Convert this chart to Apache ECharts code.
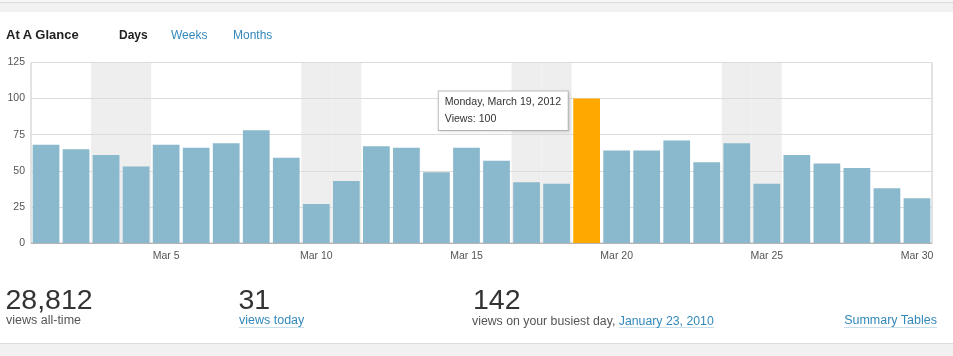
<!DOCTYPE html>
<html><head><meta charset="utf-8">
<script src="https://cdn.jsdelivr.net/npm/echarts@6/dist/echarts.min.js"></script>
<style>
html,body{margin:0;padding:0;background:#fff;width:953px;height:356px;overflow:hidden;font-family:"Liberation Sans",Arial,sans-serif;}
.abs{position:absolute;white-space:nowrap;}
#chart{position:absolute;left:0;top:0;width:953px;height:356px;}
.link{color:#3388bb;border-bottom:1px solid #c9dfec;display:inline-block;}
</style></head><body>
<div class="abs" style="left:0;top:0;width:953px;height:2px;background:#f6f6f6"></div>
<div class="abs" style="left:0;top:2px;width:953px;height:1px;background:#dcdcdc"></div>
<div class="abs" style="left:0;top:3px;width:953px;height:9px;background:#f1f1f1"></div>
<div class="abs" style="left:0;top:343px;width:953px;height:1px;background:#dcdcdc"></div>
<div class="abs" style="left:0;top:344px;width:953px;height:12px;background:#f1f1f1"></div>
<div id="chart"></div>

<div class="abs" style="left:6px;top:28.3px;font-size:13px;line-height:13px;font-weight:bold;color:#222">At A Glance</div>
<div class="abs" style="left:119px;top:29.1px;font-size:12px;line-height:12px;font-weight:bold;color:#222">Days</div>
<div class="abs" style="left:171px;top:29.1px;font-size:12px;line-height:12px;color:#3388bb">Weeks</div>
<div class="abs" style="left:233px;top:29.1px;font-size:12px;line-height:12px;color:#3388bb">Months</div>

<div class="abs" style="left:5.5px;top:285.2px;font-size:28.5px;line-height:28.5px;color:#333">28,812</div>
<div class="abs" style="left:6px;top:314.4px;font-size:12.5px;line-height:12.5px;color:#555">views all-time</div>

<div class="abs" style="left:238.5px;top:285.2px;font-size:28.5px;line-height:28.5px;color:#333">31</div>
<div class="abs" style="left:239px;top:314.4px;font-size:12.5px;line-height:12.5px;"><span class="link">views today</span></div>

<div class="abs" style="left:473px;top:285.2px;font-size:28.5px;line-height:28.5px;color:#333">142</div>
<div class="abs" style="left:472px;top:314.6px;font-size:12.3px;line-height:12.3px;color:#555">views on your busiest day, <span class="link">January 23, 2010</span></div>

<div class="abs" style="right:16px;top:314.4px;font-size:12.5px;line-height:12.5px;"><span class="link">Summary Tables</span></div>

<script>
const days = ['Mar 1','Mar 2','Mar 3','Mar 4','Mar 5','Mar 6','Mar 7','Mar 8','Mar 9','Mar 10',
  'Mar 11','Mar 12','Mar 13','Mar 14','Mar 15','Mar 16','Mar 17','Mar 18','Mar 19','Mar 20',
  'Mar 21','Mar 22','Mar 23','Mar 24','Mar 25','Mar 26','Mar 27','Mar 28','Mar 29','Mar 30'];
const views = [68,65,61,53,68,66,69,78,59,27,43,67,66,49,66,57,42,41,100,64,64,71,56,69,41,61,55,52,38,31];
const weekend = [0,0,1,1,0,0,0,0,0,1,1,0,0,0,0,0,1,1,0,0,0,0,0,1,1,0,0,0,0,0];
const xTickLabels = ['Mar 5','Mar 10','Mar 15','Mar 20','Mar 25','Mar 30'];
const yTicks = [0,25,50,75,100,125];
const highlightDay = 'Mar 19';
const tooltipLines = ['Monday, March 19, 2012','Views: 100'];

const yMax = yTicks[yTicks.length-1];
const chart = echarts.init(document.getElementById('chart'), null, {renderer:'canvas'});
const FONT = 'Liberation Sans, Arial, sans-serif';

const barData = views.map((v,i) => {
  if (days[i] !== highlightDay) return v;
  return {
    value: v,
    itemStyle: {color:'#ffa800'},
    label: {
      show: true,
      position: [-134.5, -7],
      align: 'left', verticalAlign: 'top',
      formatter: tooltipLines.join('\n'),
      backgroundColor: '#fff', borderColor: '#bdbdbd', borderWidth: 1,
      padding: [2,6,3,6], lineHeight: 16.7, fontSize: 10.6, color: '#333',
      fontFamily: FONT, width: 117,
      shadowColor: 'rgba(0,0,0,0.12)', shadowBlur: 3, shadowOffsetX: 1, shadowOffsetY: 1
    }
  };
});

chart.setOption({
  animation: false,
  grid: {left: 31, right: 21, top: 62.5, bottom: 113, show: true, borderColor: '#c6c6c6', borderWidth: 1, backgroundColor: 'transparent'},
  xAxis: [{
    type: 'category', data: days, boundaryGap: true,
    axisLine: {show: true, lineStyle: {color: '#b5b5b5'}},
    axisTick: {show: false},
    axisLabel: {fontSize: 10.5, color: '#555', fontFamily: FONT, margin: 8,
      interval: (i, v) => xTickLabels.includes(v)}
  },{
    type: 'category', data: days, boundaryGap: true, show: false
  }],
  yAxis: {
    type: 'value', min: yTicks[0], max: yMax, interval: yTicks[1]-yTicks[0],
    axisLine: {show: false}, axisTick: {show: false},
    axisLabel: {fontSize: 10.5, color: '#555', fontFamily: FONT, margin: 6},
    splitLine: {lineStyle: {color: '#dcdcdc'}}
  },
  series: [{
    type: 'bar', xAxisIndex: 1, silent: true, z: -1,
    barCategoryGap: '0%',
    itemStyle: {color: '#eeeeee'},
    data: weekend.map(w => w ? yMax : '-')
  },{
    type: 'bar', xAxisIndex: 0,
    barCategoryGap: '11%',
    itemStyle: {color: '#8ab8cd'},
    data: barData
  }]
});
</script>
</body></html>
